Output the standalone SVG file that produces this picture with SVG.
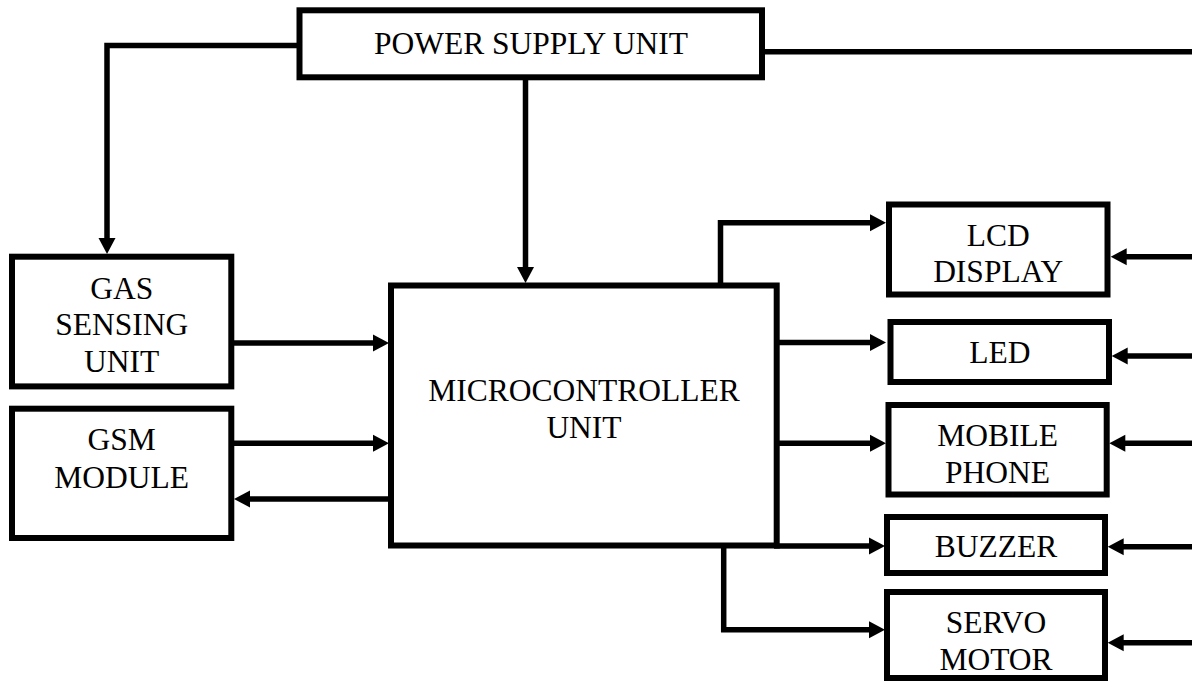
<svg xmlns="http://www.w3.org/2000/svg" width="1192" height="681" viewBox="0 0 1192 681">
<style>
.box{fill:#fff;stroke:#000;stroke-width:6}
.ln{fill:none;stroke:#000;stroke-width:5.5;stroke-linejoin:miter;stroke-linecap:square}
text{font-family:"Liberation Serif","Times New Roman",serif;font-size:31.5px;fill:#000;text-anchor:middle}
</style>
<defs>
<marker id="ah" markerUnits="userSpaceOnUse" markerWidth="16" markerHeight="17" refX="6" refY="8.5" orient="auto" overflow="visible">
<path d="M0,0 L16,8.5 L0,17 z" fill="#000"/>
</marker>
</defs>
<rect width="1192" height="681" fill="#fff"/>
<g id="connectors">
<path class="ln" d="M299.5,45.5 H107 V244" marker-end="url(#ah)"/>
<path class="ln" d="M525.5,77.3 V273" marker-end="url(#ah)"/>
<path class="ln" d="M762,51.7 H1195"/>
<path class="ln" d="M231.3,343 H379" marker-end="url(#ah)"/>
<path class="ln" d="M231.3,443.3 H379" marker-end="url(#ah)"/>
<path class="ln" d="M391,499 H244" marker-end="url(#ah)"/>
<path class="ln" d="M720.5,285.5 V222.7 H876" marker-end="url(#ah)"/>
<path class="ln" d="M776.7,342.5 H876" marker-end="url(#ah)"/>
<path class="ln" d="M776.7,443.3 H876" marker-end="url(#ah)"/>
<path class="ln" d="M776.7,546 H875" marker-end="url(#ah)"/>
<path class="ln" d="M723.7,545.5 V629.7 H875" marker-end="url(#ah)"/>
<path class="ln" d="M1195,256.7 H1120.7" marker-end="url(#ah)"/>
<path class="ln" d="M1195,356 H1121.7" marker-end="url(#ah)"/>
<path class="ln" d="M1195,443.3 H1119.3" marker-end="url(#ah)"/>
<path class="ln" d="M1195,546.7 H1117.7" marker-end="url(#ah)"/>
<path class="ln" d="M1195,642.7 H1117.7" marker-end="url(#ah)"/>
</g>
<g id="power">
<rect class="box" x="299.5" y="10.3" width="462.5" height="67"/>
<text x="531" y="54">POWER SUPPLY UNIT</text>
</g>
<g id="gas">
<rect class="box" x="12" y="256.7" width="219.3" height="129.7"/>
<text x="121.7" y="299.3">GAS</text>
<text x="121.7" y="335">SENSING</text>
<text x="121.7" y="371.7">UNIT</text>
</g>
<g id="gsm">
<rect class="box" x="12" y="408.7" width="219.3" height="129.3"/>
<text x="121.7" y="450">GSM</text>
<text x="121.7" y="487.7">MODULE</text>
</g>
<g id="mcu">
<rect class="box" x="391" y="285.5" width="385.7" height="260"/>
<text x="584" y="401">MICROCONTROLLER</text>
<text x="584" y="438.3">UNIT</text>
</g>
<g id="lcd">
<rect class="box" x="889" y="204.5" width="218.5" height="90"/>
<text x="998.2" y="245.7">LCD</text>
<text x="998.2" y="282.3">DISPLAY</text>
</g>
<g id="led">
<rect class="box" x="890.5" y="322" width="218.5" height="60"/>
<text x="999.8" y="363.3">LED</text>
</g>
<g id="mobile">
<rect class="box" x="888.5" y="405" width="218.2" height="89.5"/>
<text x="997.6" y="446">MOBILE</text>
<text x="997.6" y="482.7">PHONE</text>
</g>
<g id="buzzer">
<rect class="box" x="887" y="517" width="218" height="56"/>
<text x="996" y="557.3">BUZZER</text>
</g>
<g id="servo">
<rect class="box" x="887" y="592" width="218" height="86"/>
<text x="996" y="632.7">SERVO</text>
<text x="996" y="670">MOTOR</text>
</g>
</svg>
